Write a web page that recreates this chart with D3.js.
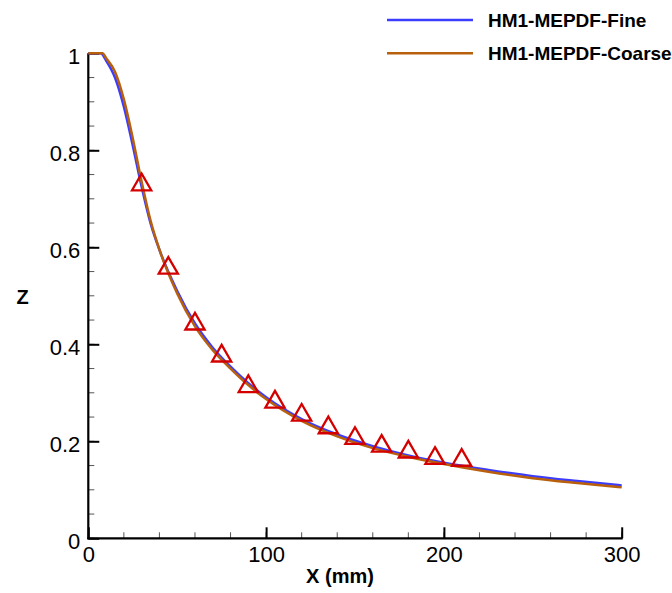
<!DOCTYPE html>
<html>
<head>
    <meta charset="utf-8">
    <title>Z along X</title>
    <script src="https://d3js.org/d3.v7.min.js"></script>
    <style type="text/css">
        body { margin: 0; background: #fff; }
        text { font-family: "Liberation Sans", Arial, sans-serif; fill: #000; }
    </style>
</head>
<body>
    <script type="text/javascript">
        // curve samples
        let fineX   = [0, 7, 10, 15, 20, 25, 30, 35, 40, 50, 60, 70, 80, 90, 100, 120, 140, 160, 180, 200, 225, 250, 275, 300];
        let fineZ   = [1, 1, 0.985, 0.95, 0.89, 0.81, 0.725, 0.65, 0.595, 0.51, 0.443, 0.393, 0.354, 0.32, 0.291, 0.246, 0.214, 0.19, 0.171, 0.156, 0.141, 0.128, 0.118, 0.109];
        let coarseX = [0, 8, 10, 15, 20, 25, 30, 35, 40, 50, 60, 70, 80, 90, 100, 120, 140, 160, 180, 200, 225, 250, 275, 300];
        let coarseZ = [1, 1, 0.99, 0.962, 0.905, 0.825, 0.735, 0.655, 0.595, 0.505, 0.437, 0.388, 0.35, 0.316, 0.287, 0.242, 0.21, 0.186, 0.168, 0.153, 0.137, 0.124, 0.114, 0.105];
        // measured points (triangles)
        let expX = [30, 45, 60, 75, 90, 105, 120, 135, 150, 165, 180, 195, 210];
        let expZ = [0.729, 0.557, 0.442, 0.376, 0.313, 0.281, 0.254, 0.228, 0.206, 0.190, 0.178, 0.165, 0.161];

        let xTicks = [0, 100, 200, 300];
        let yTicks = [0, 0.2, 0.4, 0.6, 0.8, 1];
        let seriesNames = ["HM1-MEPDF-Fine", "HM1-MEPDF-Coarse"];
        let seriesColors = ["#3c3cff", "#b8600c"];

        let width = 672, height = 593;
        let svg = d3.select("body").append("svg")
            .attr("width", width)
            .attr("height", height);

        let x = d3.scaleLinear().domain([0, 300]).range([88.3, 621.7]);
        let y = d3.scaleLinear().domain([0, 1]).range([538.3, 53.3]);

        // minor ticks (inward)
        let g = svg.append("g");
        g.selectAll(".xminor")
            .data(d3.range(0, 301, 20))
            .enter().append("line")
            .attr("x1", d => x(d)).attr("x2", d => x(d))
            .attr("y1", y(0)).attr("y2", y(0) - 6)
            .style("stroke", "#555").style("stroke-width", 1);
        g.selectAll(".yminor")
            .data(d3.range(0, 1.001, 0.05))
            .enter().append("line")
            .attr("x1", x(0)).attr("x2", x(0) + 6)
            .attr("y1", d => y(d)).attr("y2", d => y(d))
            .style("stroke", "#555").style("stroke-width", 1);

        // axes, ticks pointing into the plot
        let xAxis = d3.axisTop(x).tickValues(xTicks).tickSize(11).tickFormat(d3.format("d"));
        let yAxis = d3.axisRight(y).tickValues(yTicks).tickSize(11).tickFormat(d => d === 1 ? "1" : d === 0 ? "0" : d3.format(".1f")(d));

        let gx = svg.append("g").attr("transform", "translate(0," + y(0) + ")").call(xAxis);
        gx.select(".domain").remove();
        gx.selectAll(".tick line").style("stroke", "#000").style("stroke-width", 2);
        gx.selectAll(".tick text")
            .attr("y", 23.5).attr("dy", 0)
            .style("font-size", "22px")
            .style("font-family", "'Liberation Sans', Arial, sans-serif");

        let gy = svg.append("g").attr("transform", "translate(" + x(0) + ",0)").call(yAxis);
        gy.select(".domain").remove();
        gy.selectAll(".tick line").style("stroke", "#000").style("stroke-width", 2);
        gy.selectAll(".tick text")
            .attr("x", -8).attr("dy", "0.45em")
            .style("text-anchor", "end")
            .style("font-size", "22px")
            .style("font-family", "'Liberation Sans', Arial, sans-serif");

        // axis lines
        svg.append("line")
            .attr("x1", x(0) - 1).attr("x2", x(300) + 1)
            .attr("y1", y(0)).attr("y2", y(0))
            .style("stroke", "#000").style("stroke-width", 2.2);
        svg.append("line")
            .attr("x1", x(0)).attr("x2", x(0))
            .attr("y1", y(0) + 1).attr("y2", y(1))
            .style("stroke", "#000").style("stroke-width", 2.2);

        // curves
        let line = d3.line()
            .x(d => x(d[0]))
            .y(d => y(d[1]))
            .curve(d3.curveMonotoneX);

        svg.append("path")
            .attr("d", line(d3.zip(fineX, fineZ)))
            .style("fill", "none")
            .style("stroke", seriesColors[0])
            .style("stroke-width", 2.5);
        svg.append("path")
            .attr("d", line(d3.zip(coarseX, coarseZ)))
            .style("fill", "none")
            .style("stroke", seriesColors[1])
            .style("stroke-width", 2.5);

        // triangles
        let tri = d3.symbol().type(d3.symbolTriangle).size(160);
        svg.selectAll(".exp")
            .data(d3.zip(expX, expZ))
            .enter().append("path")
            .attr("d", tri)
            .attr("transform", d => "translate(" + x(d[0]) + "," + y(d[1]) + ")")
            .style("fill", "none")
            .style("stroke", "#d40000")
            .style("stroke-width", 2.3);

        // axis titles
        svg.append("text")
            .attr("x", 340).attr("y", 583)
            .attr("text-anchor", "middle")
            .style("font-size", "20px")
            .style("font-weight", "bold")
            .text("X (mm)");
        svg.append("text")
            .attr("x", 22.5).attr("y", 304)
            .attr("text-anchor", "middle")
            .style("font-size", "20px")
            .style("font-weight", "bold")
            .text("Z");

        // legend
        let legend = svg.append("g").attr("class", "legend");
        seriesNames.forEach((name, i) => {
            let ly = 20 + i * 33.3;
            legend.append("line")
                .attr("x1", 387).attr("x2", 473)
                .attr("y1", ly).attr("y2", ly)
                .style("stroke", seriesColors[i])
                .style("stroke-width", 2.5);
            legend.append("text")
                .attr("x", 488).attr("y", ly + 7)
                .style("font-size", "19px")
                .style("font-weight", "bold")
                .text(name);
        });
    </script>
</body>
</html>
